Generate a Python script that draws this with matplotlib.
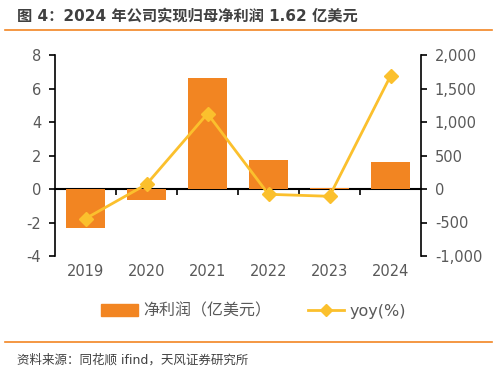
import matplotlib
matplotlib.use("Agg")
import matplotlib.pyplot as plt
from matplotlib.lines import Line2D
from matplotlib.ticker import FuncFormatter

plt.rcParams['font.family'] = ['DejaVu Sans', 'Noto Sans CJK SC']
plt.rcParams['axes.unicode_minus'] = False

years = ["2019", "2020", "2021", "2022", "2023", "2024"]
profit = [-2.33, -0.63, 6.61, 1.73, 0.08, 1.62]
yoy = [-442, 70, 1125, -79, -109, 1687]

bar_color = "#F28522"
line_color = "#FBC02D"
text_color = "#595959"

fig = plt.figure(figsize=(4.97, 3.72), dpi=100)
ax = fig.add_axes([55/497, 1-256/372, 366/497, 201/372])
x = list(range(len(years)))

ax.bar(x, profit, width=0.63, color=bar_color, zorder=2)
ax.set_xlim(-0.5, 5.5)
ax.set_ylim(-4, 8)
ax.set_yticks([-4, -2, 0, 2, 4, 6, 8])
ax.set_xticks(x)
ax.set_xticklabels(years)
ax.tick_params(axis='x', length=0, pad=6, labelsize=10.5, labelcolor=text_color)
ax.tick_params(axis='y', length=4, width=1.2, labelsize=10.5, labelcolor=text_color, pad=6)
for s in ["top", "right", "bottom"]:
    ax.spines[s].set_visible(False)
ax.spines["left"].set_linewidth(1.2)

# zero line with category boundary ticks
sec = ax.secondary_xaxis(4/12)
sec.set_xticks([0.5, 1.5, 2.5, 3.5, 4.5])
sec.tick_params(axis='x', direction='out', length=4, width=1.2, labelbottom=False, labeltop=False)
sec.spines["bottom"].set_linewidth(1.5)
sec.spines["top"].set_linewidth(1.5)

ax2 = ax.twinx()
ax2.plot(x, yoy, color=line_color, lw=2, marker='D', markersize=7, zorder=3)
ax2.set_ylim(-1000, 2000)
ax2.set_yticks([-1000, -500, 0, 500, 1000, 1500, 2000])
ax2.yaxis.set_major_formatter(FuncFormatter(lambda v, p: f"{int(v):,}"))
ax2.tick_params(axis='y', length=4, width=1.2, labelsize=10.5, labelcolor=text_color, pad=6)
for s in ["top", "left", "bottom"]:
    ax2.spines[s].set_visible(False)
ax2.spines["right"].set_linewidth(1.2)

handles = [
    plt.Rectangle((0, 0), 1, 1, color=bar_color),
    Line2D([0], [0], color=line_color, lw=2, marker='D', markersize=6),
]
fig.legend(handles, ["净利润（亿美元）", "yoy(%)"], loc='center',
           bbox_to_anchor=(0.51, 1-311/372), ncol=2, frameon=False,
           fontsize=11.5, labelcolor=text_color, handlelength=2.3,
           columnspacing=2.3, handletextpad=0.3)

fig.text(17/497, 1-17/372, "图 4：2024 年公司实现归母净利润 1.62 亿美元",
         fontsize=11, fontweight='semibold', color="#404040", va='center', ha='left')
fig.add_artist(Line2D([5/497, 492/497], [1-30/372, 1-30/372], color=bar_color, lw=1.2))
fig.add_artist(Line2D([5/497, 492/497], [1-342/372, 1-342/372], color=bar_color, lw=1.2))
fig.text(17/497, 1-360/372, "资料来源：同花顺 ifind，天风证券研究所",
         fontsize=9, color="#404040", va='center', ha='left')

fig.savefig("out.png", dpi=100)
